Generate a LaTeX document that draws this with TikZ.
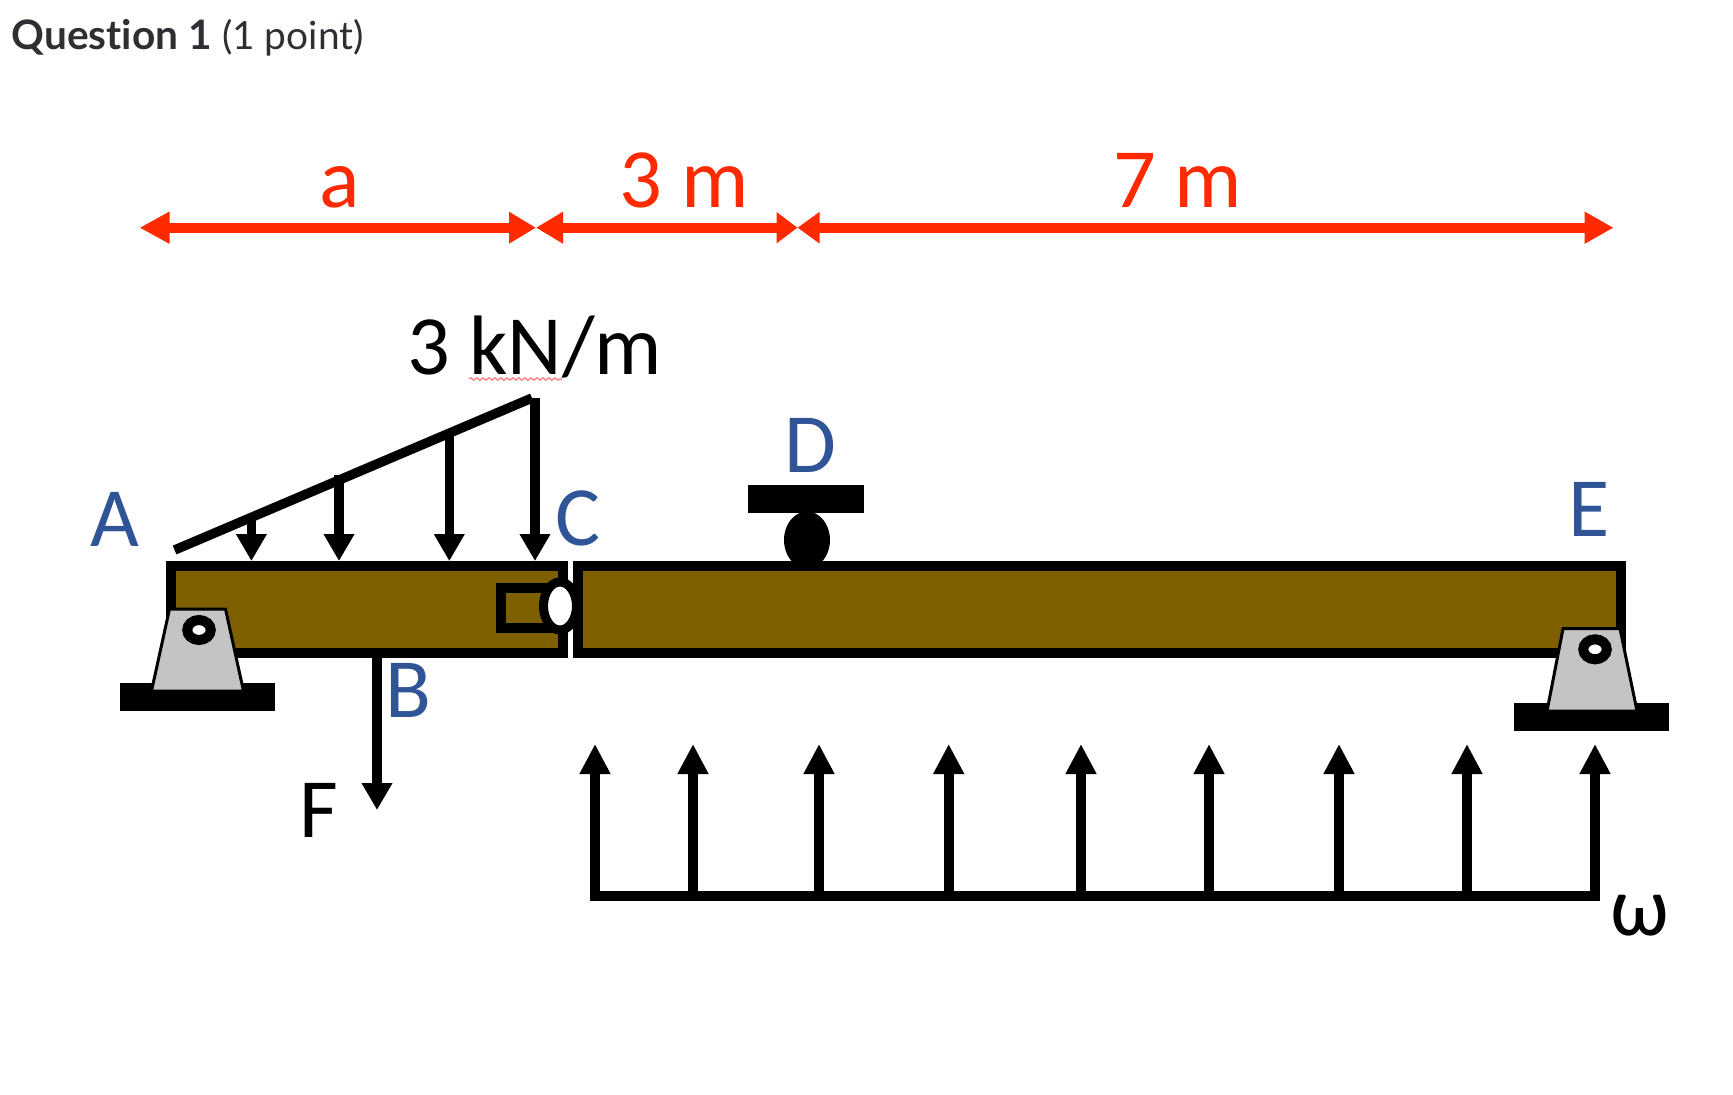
\documentclass[tikz,border=0pt]{standalone}
\usepackage{fontspec}
\usetikzlibrary{calc}
\usetikzlibrary{arrows.meta}
\usetikzlibrary{shapes.geometric}
\usetikzlibrary{decorations.pathmorphing}
\newfontfamily\labelfont{Carlito}
\newfontfamily\titlefont[Ligatures=NoCommon]{Lato}
\definecolor{beam brown}{HTML}{7F6000}
\definecolor{label blue}{HTML}{2F5597}
\definecolor{span red}{HTML}{FF2A00}
\definecolor{pad grey}{HTML}{C4C4C4}
\definecolor{title grey}{HTML}{2D2F33}
\tikzset{
    big text/.style={anchor=base, inner sep=0, font=\labelfont\fontsize{24}{24}\selectfont},
    point label/.style={big text, text=label blue},
    span label/.style={big text, text=span red},
    beam/.style={draw, line width=.1cm, fill=beam brown, inner sep=0, minimum height=.873cm},
    force/.style={line width=.095cm, -{Triangle[length=.27cm, width=.29cm]}},
    lift/.style={line width=.1cm, -{Triangle[length=.3cm, width=.29cm]}},
    plate/.style={fill=black, inner sep=0, minimum width=1.554cm, minimum height=.28cm},
    pad/.style={draw, line width=.03cm, fill=pad grey, line join=miter},
    pin/.style={ellipse, draw, line width=.1cm, fill=white, inner sep=0, minimum width=.235cm, minimum height=.2cm},
}

\begin{document}
\begin{tikzpicture}
            \useasboundingbox (0, 0) rectangle (17.33, -10.94);
            \node[anchor=base west, inner sep=0, text=title grey, font=\titlefont] (title) at (.11, -.495) {\fontsize{11.55}{12}\selectfont\textbf{Question 1} \fontsize{11.05}{12}\selectfont(1 point)};

            % spans on top
            \coordinate (s0) at (1.395, -2.277);
            \coordinate (s1) at (5.36, -2.277);
            \coordinate (s2) at (7.975, -2.277);
            \coordinate (s3) at (16.136, -2.277);
            \draw[span red, line width=.1cm, {Triangle[length=.3cm, width=.3cm]}-{Triangle[length=.27cm, width=.3cm]}] (s0) -- (s1);
            \draw[span red, line width=.1cm, {Triangle[length=.27cm, width=.3cm]}-{Triangle[length=.21cm, width=.3cm]}] (s1) -- (s2);
            \draw[span red, line width=.1cm, {Triangle[length=.22cm, width=.3cm]}-{Triangle[length=.29cm, width=.3cm]}] (s2) -- (s3);
            \node[span label] (span a) at (3.4, -2.07) {a};
            \node[span label] (span b) at (6.84, -2.07) {3 m};
            \node[span label] (span c) at (11.776, -2.07) {7 m};

            % the roller at D goes under the beam
            \node[ellipse, fill=black, inner sep=0, minimum width=.46cm, minimum height=.57cm] (D roller) at (8.07, -5.4) {};
            \node[plate, minimum width=1.16cm] (D plate) at (8.06, -4.989) {};

            % beams
            \node[beam, minimum width=3.913cm] (L beam) at (3.67, -6.097) {};
            \node[beam, minimum width=10.433cm] (R beam) at (10.993, -6.097) {};

            % hinge at C
            \node[draw, line width=.1cm, fill=beam brown, inner sep=0, minimum width=.6cm, minimum height=.4cm] (socket) at (5.31, -6.075) {};
            \node[ellipse, draw, line width=.09cm, fill=white, inner sep=0, minimum width=.33cm, minimum height=.48cm] (hinge) at (5.6, -6.06) {};

            % supports
            \node[plate] (A plate) at (1.977, -6.97) {};
            \draw[pad] (1.695, -6.09) -- (2.255, -6.09) -- (2.435, -6.91) -- (1.515, -6.91) -- cycle;
            \node[pin] (A pin) at (1.99, -6.3) {};
            \node[plate] (E plate) at (15.917, -7.17) {};
            \draw[pad] (15.63, -6.287) -- (16.2, -6.287) -- (16.37, -7.11) -- (15.47, -7.11) -- cycle;
            \node[pin] (E pin) at (15.95, -6.493) {};

            % triangular load
            \coordinate (q0) at (1.746, -5.5);
            \coordinate (q top) at (5.32, -3.98);
            \coordinate (q1) at (2.514, -5.18);
            \coordinate (q2) at (3.39, -4.75);
            \coordinate (q3) at (4.493, -4.33);
            \coordinate (q4) at (5.35, -3.98);
            \draw[line width=.095cm] (q0) -- (q top);
            \draw[force] (q1) -- (q1|-L beam.north);
            \draw[force] (q2) -- (q2|-L beam.north);
            \draw[force] (q3) -- (q3|-L beam.north);
            \draw[force] (q4) -- (q4|-L beam.north);
            \node[big text, anchor=base west] (q label) at (4.07, -3.74) {3 kN/m};
            \coordinate (wave a) at (4.69, -3.79);
            \coordinate (wave b) at (5.62, -3.79);
            \draw[red!55, line width=.012cm, decorate, decoration={snake, amplitude=.012cm, segment length=.06cm}] (wave a) -- (wave b);

            % point load at B
            \coordinate (F tip) at (3.77, -8.1);
            \draw[force] (F tip|-L beam.south) -- (F tip);
            \node[big text] (F) at (3.19, -8.375) {F};

            % load from below
            \coordinate (w top) at (0, -7.44);
            \coordinate (w1) at (5.95, -8.957);
            \coordinate (w2) at (6.93, -8.957);
            \coordinate (w3) at (8.19, -8.957);
            \coordinate (w4) at (9.487, -8.957);
            \coordinate (w5) at (10.81, -8.957);
            \coordinate (w6) at (12.09, -8.957);
            \coordinate (w7) at (13.39, -8.957);
            \coordinate (w8) at (14.67, -8.957);
            \coordinate (w9) at (15.95, -8.957);
            \draw[line width=.1cm, line cap=rect] (w1) -- (w9);
            \draw[lift] (w1) -- (w1|-w top);
            \draw[lift] (w2) -- (w2|-w top);
            \draw[lift] (w3) -- (w3|-w top);
            \draw[lift] (w4) -- (w4|-w top);
            \draw[lift] (w5) -- (w5|-w top);
            \draw[lift] (w6) -- (w6|-w top);
            \draw[lift] (w7) -- (w7|-w top);
            \draw[lift] (w8) -- (w8|-w top);
            \draw[lift] (w9) -- (w9|-w top);
            \node[big text] (omega) at (16.4, -9.35) {ω};

            % point names
            \node[point label] (A) at (1.148, -5.464) {A};
            \node[point label] (B) at (4.086, -7.179) {B};
            \node[point label] (C) at (5.78, -5.45) {C};
            \node[point label] (D) at (8.1, -4.72) {D};
            \node[point label] (E) at (15.89, -5.367) {E};
        \end{tikzpicture}
\end{document}
